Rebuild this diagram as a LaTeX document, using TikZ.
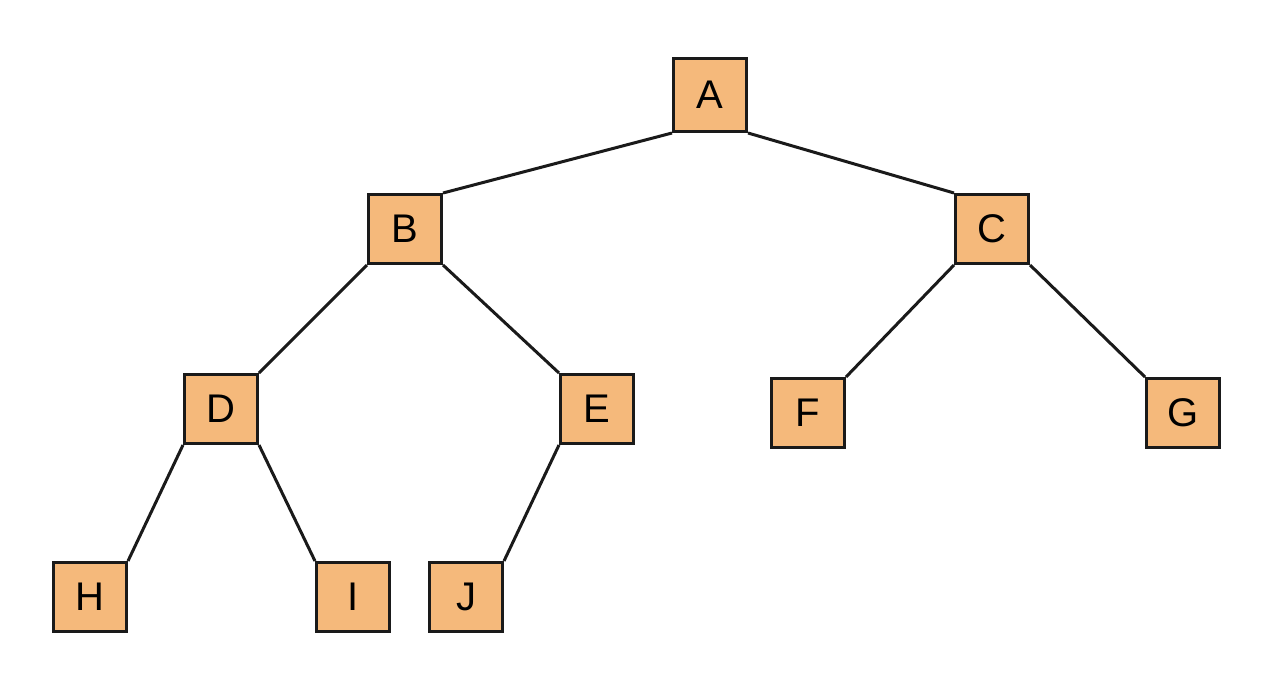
\documentclass[tikz,border=0pt]{standalone}
\usepackage{fontspec}
\setmainfont{Liberation Sans}
\definecolor{boxfill}{HTML}{F5B97B}
\definecolor{linecol}{HTML}{1A1A1A}
\begin{document}
\begin{tikzpicture}[x=1pt,y=-1pt,
  tnode/.style={draw=linecol,fill=boxfill,line width=3pt,minimum width=73pt,minimum height=69pt,inner sep=0pt,font=\fontsize{40}{40}\selectfont},
  edge/.style={draw=linecol,line width=3pt}]
\useasboundingbox (0,0) rectangle (1279,678);
\node[tnode,minimum height=73pt] (A) at (710,95) {A};
\node[tnode] (B) at (405,229) {B};
\node[tnode] (C) at (992,229) {C};
\node[tnode] (D) at (221,409) {D};
\node[tnode] (E) at (597,409) {E};
\node[tnode] (F) at (808,413) {F};
\node[tnode] (G) at (1183,413) {G};
\node[tnode] (H) at (90,597) {H};
\node[tnode] (I) at (353,597) {I};
\node[tnode] (J) at (466,597) {J};
\draw[edge] (A.south west) -- (B.north east);
\draw[edge] (A.south east) -- (C.north west);
\draw[edge] (B.south west) -- (D.north east);
\draw[edge] (B.south east) -- (E.north west);
\draw[edge] (C.south west) -- (F.north east);
\draw[edge] (C.south east) -- (G.north west);
\draw[edge] (D.south west) -- (H.north east);
\draw[edge] (D.south east) -- (I.north west);
\draw[edge] (E.south west) -- (J.north east);
\end{tikzpicture}
\end{document}
